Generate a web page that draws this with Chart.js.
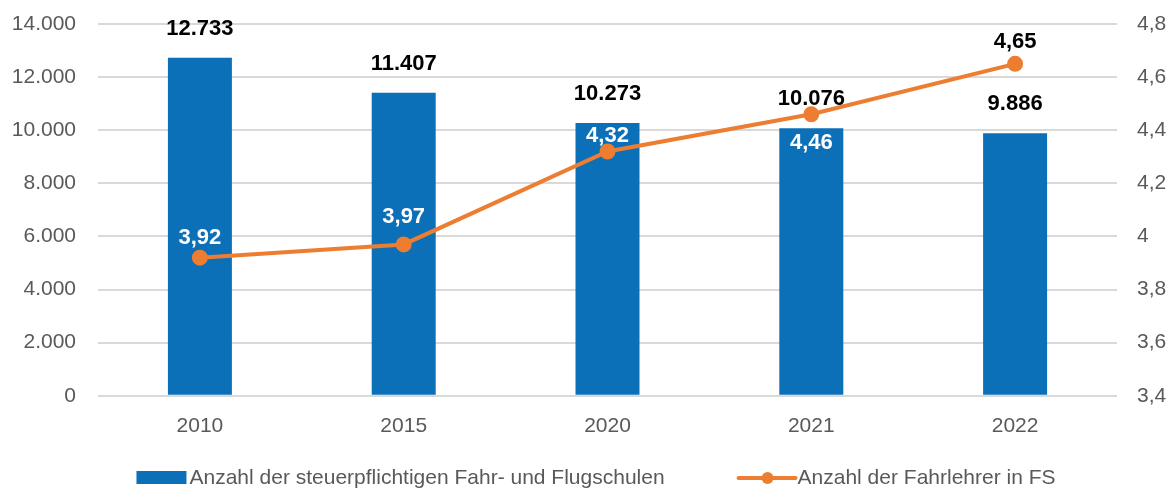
<!DOCTYPE html>
<html>
<head>
<meta charset="utf-8">
<script src="https://cdn.jsdelivr.net/npm/chart.js@4.4.0/dist/chart.umd.min.js"></script>
<style>
  html, body { margin: 0; padding: 0; background: #fff; }
  #wrap { width: 1173px; height: 490px; }
</style>
</head>
<body>
<div id="wrap"><canvas id="myChart"></canvas></div>
<script>
const years = ["2010", "2015", "2020", "2021", "2022"];
const schools = [12733, 11407, 10273, 10076, 9886];
const teachers = [3.92, 3.97, 4.32, 4.46, 4.65];

const seriesNames = [
  "Anzahl der steuerpflichtigen Fahr- und Flugschulen",
  "Anzahl der Fahrlehrer in FS"
];

const barColor = "#0B70B8";
const lineColor = "#ED7D31";
const tickColor = "#595959";
const fontFamily = "'Liberation Sans', Arial, sans-serif";

// label offsets for the line values (px from the point)
const lineLabelOffsets = [-20, -27, -16, 29, -22];
const lineLabelColors = ["#fff", "#fff", "#fff", "#fff", "#000"];

const fmtDE = (v, d) => v.toLocaleString("de-DE", { minimumFractionDigits: d, maximumFractionDigits: d });

const valueLabels = {
  id: "valueLabels",
  afterDatasetsDraw(chart) {
    const ctx = chart.ctx;
    const barMeta = chart.getDatasetMeta(1);
    const lineMeta = chart.getDatasetMeta(0);
    ctx.save();
    ctx.font = "bold 22px " + fontFamily;
    ctx.textAlign = "center";
    ctx.textBaseline = "middle";
    barMeta.data.forEach((bar, i) => {
      ctx.fillStyle = "#000";
      ctx.fillText(fmtDE(schools[i], 0), bar.x, bar.y - 29);
    });
    lineMeta.data.forEach((pt, i) => {
      ctx.fillStyle = lineLabelColors[i];
      ctx.fillText(fmtDE(teachers[i], 2), pt.x, pt.y + lineLabelOffsets[i]);
    });
    ctx.restore();
  }
};

// legend drawn by hand: Chart.js ties item gap to row height
const customLegend = {
  id: "customLegend",
  afterDraw(chart) {
    const ctx = chart.ctx;
    const y = 478;
    ctx.save();
    ctx.font = "21px " + fontFamily;
    ctx.textBaseline = "middle";
    ctx.textAlign = "left";
    const w0 = ctx.measureText(seriesNames[0]).width;
    const w1 = ctx.measureText(seriesNames[1]).width;
    const gap = 74;
    const total = 50 + 3 + w0 + gap + 57 + 2 + w1;
    let x = 596 - total / 2;

    ctx.fillStyle = barColor;
    ctx.fillRect(x, y - 7, 50, 13);
    x += 53;
    ctx.fillStyle = tickColor;
    ctx.fillText(seriesNames[0], x, y);
    x += w0 + gap;

    ctx.strokeStyle = lineColor;
    ctx.lineWidth = 4;
    ctx.lineCap = "round";
    ctx.beginPath();
    ctx.moveTo(x, y);
    ctx.lineTo(x + 57, y);
    ctx.stroke();
    ctx.fillStyle = lineColor;
    ctx.beginPath();
    ctx.arc(x + 29, y, 6, 0, Math.PI * 2);
    ctx.fill();
    x += 59;
    ctx.fillStyle = tickColor;
    ctx.fillText(seriesNames[1], x, y);
    ctx.restore();
  }
};

new Chart("myChart", {
  data: {
    labels: years,
    datasets: [
      {
        type: "line",
        label: seriesNames[1],
        data: teachers,
        yAxisID: "y1",
        borderColor: lineColor,
        backgroundColor: lineColor,
        borderWidth: 4,
        pointRadius: 6,
        pointHoverRadius: 6,
        tension: 0,
        order: 0
      },
      {
        type: "bar",
        label: seriesNames[0],
        data: schools,
        yAxisID: "y",
        backgroundColor: barColor,
        categoryPercentage: 1,
        barPercentage: 0.314,
        order: 1
      }
    ]
  },
  options: {
    responsive: true,
    maintainAspectRatio: false,
    animation: false,
    layout: { padding: { top: 24, left: 0, right: 0, bottom: 33 } },
    scales: {
      x: {
        grid: { display: false, drawTicks: false },
        border: { display: false },
        ticks: { color: tickColor, font: { family: fontFamily, size: 21 }, padding: 18 }
      },
      y: {
        position: "left",
        min: 0,
        max: 14000,
        border: { display: false },
        grid: { color: "#D9D9D9", lineWidth: 2, drawTicks: true, tickLength: 22, tickColor: "rgba(0,0,0,0)" },
        afterFit(scale) { scale.width = 98; },
        ticks: {
          stepSize: 2000,
          color: tickColor,
          padding: 0,
          font: { family: fontFamily, size: 21 },
          callback: v => fmtDE(v, 0)
        }
      },
      y1: {
        position: "right",
        min: 3.4,
        max: 4.8,
        border: { display: false },
        grid: { drawOnChartArea: false, drawTicks: true, tickLength: 20, tickColor: "rgba(0,0,0,0)" },
        afterFit(scale) { scale.width = 56; },
        ticks: {
          stepSize: 0.2,
          color: tickColor,
          padding: 0,
          font: { family: fontFamily, size: 21 },
          callback: v => String(Math.round(v * 10) / 10).replace(".", ",")
        }
      }
    },
    plugins: {
      tooltip: { enabled: false },
      legend: { display: false }
    }
  },
  plugins: [valueLabels, customLegend]
});
</script>
</body>
</html>
